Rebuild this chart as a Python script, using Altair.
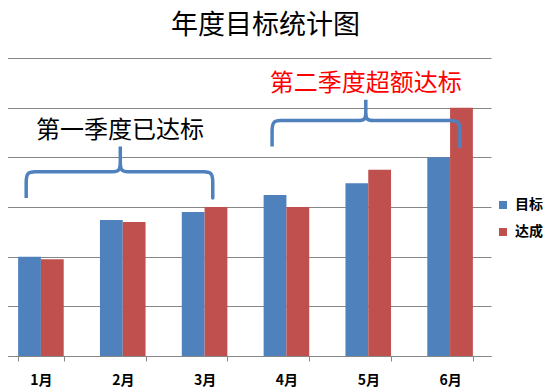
import altair as alt
import pandas as pd

# ---- data ----
months = ["1月", "2月", "3月", "4月", "5月", "6月"]
target = [2.0, 2.74, 2.90, 3.24, 3.48, 4.0]
actual = [1.95, 2.70, 3.0, 3.0, 3.75, 5.0]
series = ["目标", "达成"]
colors = ["#4F81BD", "#C0504D"]

note1 = "第一季度已达标"
note2 = "第二季度超额达标"
note1_pos = [1.465, 4.53]
note2_pos = [4.47, 5.48]

# brace key points (x in month units, y in value units); sharp = point repeated for basis curve
brace1_x = [0.32, 0.32, 0.32, 0.45, 1.36, 1.47, 1.47, 1.47, 1.47, 1.47, 1.58, 2.47, 2.60, 2.60, 2.60]
brace1_y = [3.18, 3.45, 3.71, 3.71, 3.71, 3.71, 3.95, 4.22, 3.95, 3.71, 3.71, 3.71, 3.71, 3.45, 3.18]
brace2_x = [3.325, 3.325, 3.325, 3.45, 4.36, 4.47, 4.47, 4.47, 4.47, 4.47, 4.58, 5.49, 5.62, 5.62, 5.62]
brace2_y = [4.217, 4.48, 4.74, 4.74, 4.74, 4.74, 4.93, 5.16, 4.93, 4.74, 4.74, 4.74, 4.74, 4.48, 4.217]
sharp = [3, 3, 1, 3, 3, 1, 3, 3, 3, 1, 3, 3, 1, 3, 3]

# ---- tables ----
rows = []
for m, t, a in zip(months, target, actual):
    rows.append({"month": m, "series": series[0], "value": t})
    rows.append({"month": m, "series": series[1], "value": a})
bars_df = pd.DataFrame(rows)

brows = []
for bid, (bx, by) in enumerate([(brace1_x, brace1_y), (brace2_x, brace2_y)]):
    k = 0
    for x, y, s in zip(bx, by, sharp):
        for _ in range(s):
            brows.append({"brace": bid, "ord": k, "bx": x, "by": y})
            k += 1
brace_df = pd.DataFrame(brows)

W = 483
H = 298
XR = [-8, W]
GRID = "#868686"
FONT = "Noto Sans CJK SC"

y_axis = alt.Axis(values=[0, 1, 2, 3, 4, 5, 6], grid=True, gridColor=GRID, gridWidth=1,
                  labels=False, ticks=False, domain=False, title=None)
y_scale = alt.Scale(domain=[0, 6], nice=False, zero=True)

bars = alt.Chart(bars_df).mark_bar().encode(
    x=alt.X("month:N", sort=months,
            scale=alt.Scale(range=XR, paddingInner=0.443, paddingOuter=0.2215),
            axis=alt.Axis(title=None, labelAngle=0, tickBand="extent", tickSize=5,
                          tickColor=GRID, domainColor=GRID, labelFont=FONT,
                          labelFontSize=14, labelFontWeight="bold", labelColor="black",
                          labelPadding=12, grid=False)),
    xOffset=alt.XOffset("series:N", sort=series,
                        scale=alt.Scale(paddingInner=0, paddingOuter=0)),
    y=alt.Y("value:Q", scale=y_scale, axis=y_axis),
    color=alt.Color("series:N", sort=series,
                    scale=alt.Scale(domain=series, range=colors),
                    legend=alt.Legend(title=None, orient="none", legendX=488, legendY=140,
                                      symbolType="square", symbolSize=64,
                                      symbolStrokeWidth=0, labelFont=FONT,
                                      labelFontSize=14, labelFontWeight="bold",
                                      labelColor="black", rowPadding=13,
                                      labelOffset=5, padding=0)),
)

qx = alt.Scale(domain=[0, 6], range=XR, nice=False, zero=False)

braces = alt.Chart(brace_df).mark_line(
    color="#4F81BD", strokeWidth=3.5, interpolate="basis", strokeCap="round"
).encode(
    x=alt.X("bx:Q", scale=qx, axis=None),
    y=alt.Y("by:Q", scale=y_scale, axis=y_axis),
    detail="brace:N",
    order="ord:Q",
)

t1 = alt.Chart(pd.DataFrame({"t": [note1], "nx": [note1_pos[0]], "ny": [note1_pos[1]]})).mark_text(
    font=FONT, fontSize=24, color="black"
).encode(
    x=alt.X("nx:Q", scale=qx, axis=None),
    y=alt.Y("ny:Q", scale=y_scale, axis=y_axis),
    text="t:N",
)

t2 = alt.Chart(pd.DataFrame({"t": [note2], "nx": [note2_pos[0]], "ny": [note2_pos[1]]})).mark_text(
    font=FONT, fontSize=24, color="#FF0000"
).encode(
    x=alt.X("nx:Q", scale=qx, axis=None),
    y=alt.Y("ny:Q", scale=y_scale, axis=y_axis),
    text="t:N",
)

chart = alt.layer(bars, braces, t1, t2).resolve_scale(x="independent").properties(
    width=W, height=H,
    autosize=alt.AutoSizeParams(type="none"),
    padding={"left": 0, "top": 50, "right": 52, "bottom": 36},
    title=alt.Title("年度目标统计图", fontSize=27, font=FONT, fontWeight="normal",
                    anchor="middle", offset=18, dx=16, color="black"),
).configure_view(stroke=None)

chart.save("out.html", embed_options={"renderer": "svg", "actions": False})
